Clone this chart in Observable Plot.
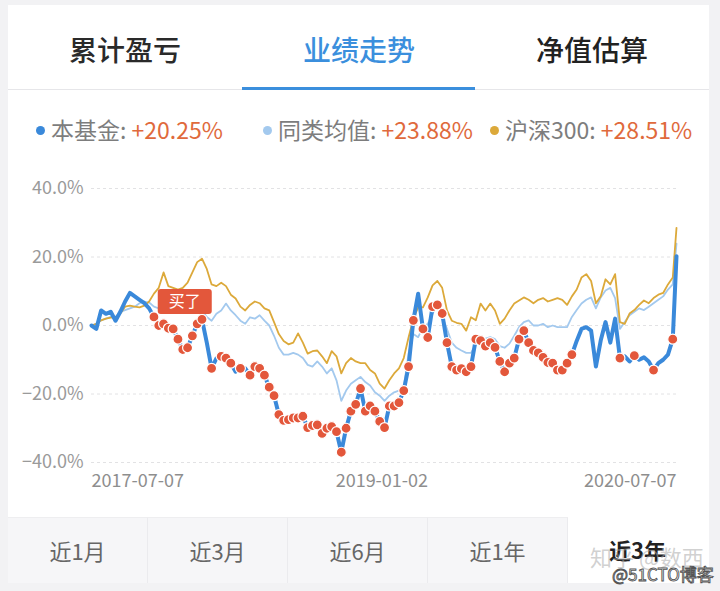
<!DOCTYPE html>
<html><head><meta charset="utf-8">
<script src="https://cdn.jsdelivr.net/npm/d3@7"></script>
<script src="https://cdn.jsdelivr.net/npm/@observablehq/plot@0.6"></script>
<style>
html,body{margin:0;padding:0;background:#f2f2f4;}
#page{position:relative;width:720px;height:591px;overflow:hidden;background:#f2f2f4;font-family:"Noto Sans CJK SC","Noto Sans",sans-serif;}
#card{position:absolute;left:8px;top:5px;width:701px;height:578px;background:#fff;}
.tab{position:absolute;top:29px;width:234px;text-align:center;font-size:28px;font-weight:500;color:#2a2a2a;line-height:40px;}
#sep{position:absolute;left:8px;top:89px;width:701px;height:1px;background:#e6e6e9;}
#under{position:absolute;left:242px;top:87px;width:233px;height:3px;background:#3b8fdd;}
.leg{position:absolute;top:114px;font-size:23px;line-height:30px;color:#7d7d7d;white-space:nowrap;}
.leg .dot{display:inline-block;width:9px;height:9px;border-radius:50%;margin-right:6px;vertical-align:middle;position:relative;top:-2px;}
.leg .val{color:#e06a3c;}
#chart{position:absolute;left:0;top:160px;}
.btab{position:absolute;top:517px;width:139px;height:65px;line-height:65px;text-align:center;font-size:22px;color:#666;background:#f6f6f8;border-right:1px solid #ebebee;border-top:1px solid #eeeef0;}
.btab.on{background:#fff;color:#222;font-weight:700;border:none;}
#wm1{position:absolute;left:590px;top:540px;font-size:22px;color:rgba(170,170,170,0.55);white-space:nowrap;}
#wm2{position:absolute;left:612px;top:561px;font-size:17px;color:#fff;-webkit-text-stroke:0.9px #555;white-space:nowrap;}
</style></head>
<body>
<div id="page">
  <div id="card"></div>
  <div class="tab" style="left:8px">累计盈亏</div>
  <div class="tab" style="left:242px;color:#3b8fdd">业绩走势</div>
  <div class="tab" style="left:475px;color:#222">净值估算</div>
  <div id="sep"></div>
  <div id="under"></div>
  <div id="legend"></div>
  <div id="chart"></div>
  <div id="tabs"></div>
  <div id="wm1">知乎 @数西</div>
  <div id="wm2">@51CTO博客</div>
</div>
<script>
// ---- data ----
const tabsTop = ["累计盈亏", "业绩走势", "净值估算"];
const seriesNames = ["本基金", "同类均值", "沪深300"];
const seriesTotals = ["+20.25%", "+23.88%", "+28.51%"];
const periodTabs = ["近1月", "近3月", "近6月", "近1年", "近3年"];
const yTicks = [-40, -20, 0, 20, 40];
const xTickLabels = ["2017-07-07", "2019-01-02", "2020-07-07"];

const dates = [
"2017-07-07","2017-07-16","2017-07-25","2017-08-03","2017-08-12","2017-08-21","2017-08-30","2017-09-08","2017-09-17","2017-09-26",
"2017-10-05","2017-10-14","2017-10-23","2017-11-01","2017-11-10","2017-11-19","2017-11-28","2017-12-07","2017-12-16","2017-12-25",
"2018-01-03","2018-01-12","2018-01-21","2018-01-30","2018-02-08","2018-02-17","2018-02-26","2018-03-07","2018-03-16","2018-03-25",
"2018-04-03","2018-04-12","2018-04-21","2018-04-30","2018-05-09","2018-05-18","2018-05-27","2018-06-05","2018-06-14","2018-06-23",
"2018-07-02","2018-07-11","2018-07-20","2018-07-29","2018-08-07","2018-08-16","2018-08-25","2018-09-03","2018-09-12","2018-09-21",
"2018-09-30","2018-10-09","2018-10-18","2018-10-27","2018-11-05","2018-11-14","2018-11-23","2018-12-02","2018-12-11","2018-12-20",
"2018-12-29","2019-01-07","2019-01-16","2019-01-25","2019-02-03","2019-02-12","2019-02-21","2019-03-02","2019-03-11","2019-03-20",
"2019-03-29","2019-04-07","2019-04-16","2019-04-25","2019-05-04","2019-05-13","2019-05-22","2019-05-31","2019-06-09","2019-06-18",
"2019-06-27","2019-07-06","2019-07-15","2019-07-24","2019-08-02","2019-08-11","2019-08-20","2019-08-29","2019-09-07","2019-09-16",
"2019-09-25","2019-10-04","2019-10-13","2019-10-22","2019-10-31","2019-11-09","2019-11-18","2019-11-27","2019-12-06","2019-12-15",
"2019-12-24","2020-01-02","2020-01-11","2020-01-20","2020-01-29","2020-02-07","2020-02-16","2020-02-25","2020-03-05","2020-03-14",
"2020-03-23","2020-04-01","2020-04-10","2020-04-19","2020-04-28","2020-05-07","2020-05-16","2020-05-25","2020-06-03","2020-06-12",
"2020-06-21","2020-06-30","2020-07-07"];

const fundValues = [
0, -1.0, 4.4, 3.4, 4.0, 1.4, 4.0, 7.0, 9.5, 8.5,
7.5, 6.5, 5.0, 2.5, 0.0, 0.5, -0.8, -1.0, -4.0, -7.0,
-6.5, -3.0, 0.5, 1.8, -5.0, -12.5, -9.6, -9.0, -9.5, -11.0,
-13.5, -12.5, -12.5, -14.5, -12.0, -12.5, -14.5, -18.0, -20.5, -26.0,
-27.7, -27.5, -27.0, -27.0, -26.5, -29.8, -29.2, -29.0, -31.5, -30.0,
-29.5, -31.0, -37.0, -30.0, -25.0, -23.0, -18.4, -25.0, -23.5, -25.0,
-28.0, -29.8, -23.5, -23.5, -22.5, -19.0, -12.0, 1.5, 9.3, -1.0,
-3.5, 5.5, 6.0, 3.5, -5.0, -12.0, -13.0, -12.6, -13.5, -12.0,
-4.0, -4.4, -6.0, -5.0, -6.4, -10.5, -13.5, -11.0, -9.5, -4.0,
-1.5, -5.0, -7.3, -8.0, -9.3, -10.8, -11.0, -13.0, -13.0, -11.0,
-8.5, -4.5, -1.0, -0.5, -1.5, -12.0, -4.4, 1.0, -5.0, 2.0,
-9.5, -9.0, -10.5, -8.8, -10.0, -9.3, -10.5, -13.0, -11.0, -10.0,
-8.5, -4.0, 20.25];

const peerValues = [
0, 0.5, 1.5, 2.0, 2.5, 2.5, 4.0, 4.5, 5.0, 5.5,
6.5, 7.0, 6.7, 5.5, 5.0, 5.5, 5.0, 4.5, 5.0, 4.0,
4.5, 5.0, 4.5, 4.5, 2.5, 1.4, 3.4, 4.4, 6.4, 4.4,
3.0, 1.4, 0.5, 2.4, 2.0, 3.0, 1.4, 0.0, -3.0, -6.5,
-8.5, -8.5, -8.0, -8.5, -9.5, -11.5, -12.0, -10.5, -12.0, -14.0,
-12.5, -16.0, -22.0, -19.0, -17.0, -16.0, -15.0, -16.5, -17.5, -19.5,
-20.5, -22.0, -20.5, -19.5, -19.0, -18.0, -8.2, -2.5, -3.4, -0.5,
0.5, 3.4, 6.4, 2.5, -1.0, -5.0, -6.5, -7.3, -8.0, -8.0,
-5.5, -3.4, -3.8, -3.4, -4.0, -6.0, -6.5, -5.3, -3.0, -0.5,
1.0, 1.5, 0.0, 0.0, 0.5, -0.5, 0.0, -0.5, -0.5, -0.5,
2.5, 4.5, 6.4, 7.5, 8.2, 5.0, 8.2, 10.2, 11.0, 8.0,
-1.0, 1.0, 3.0, 4.0, 5.0, 4.5, 5.5, 6.5, 7.5, 8.5,
10.5, 12.0, 23.88];

const hs300Values = [
0, 0.5, 1.5, 2.0, 2.3, 2.4, 3.5, 5.5, 5.8, 5.5,
5.3, 5.8, 7.0, 9.3, 11.0, 15.5, 11.5, 11.0, 10.5, 11.0,
12.5, 15.5, 18.5, 19.5, 16.5, 12.0, 11.5, 12.5, 11.5, 9.0,
7.9, 5.5, 4.4, 6.0, 7.0, 6.5, 5.0, 4.4, 1.0, -2.5,
-4.5, -5.5, -5.0, -2.3, -5.0, -8.2, -7.5, -7.3, -9.0, -11.0,
-7.5, -9.0, -14.0, -11.0, -9.5, -10.5, -11.0, -11.0, -13.0, -14.0,
-17.0, -18.4, -16.0, -14.0, -12.5, -9.5, -3.5, 2.0, 5.3, 5.3,
8.2, 11.7, 13.0, 11.0, 4.4, 1.4, 0.8, 0.5, -1.5, 2.4,
1.5, 6.4, 4.4, 6.4, 4.4, 0.5, 2.0, 4.4, 6.4, 7.3,
8.2, 7.5, 6.5, 7.5, 8.0, 7.0, 7.5, 8.0, 7.5, 6.0,
8.5, 10.5, 14.0, 15.0, 13.0, 6.5, 8.5, 13.5, 12.0, 15.0,
1.0, 0.5, 3.5, 4.5, 6.0, 7.3, 6.5, 8.0, 9.0, 9.5,
12.0, 14.0, 28.51];

// points where a purchase was made (index into dates)
const buyIndex = [13,14,15,16,17,18,19,20,21,22,23,25,27,28,29,31,33,34,35,36,37,38,39,40,41,42,43,44,45,46,47,48,49,50,51,52,53,54,55,56,57,58,59,60,61,62,63,64,65,66,67,69,70,71,72,73,74,75,76,77,78,79,80,81,82,83,84,85,86,87,88,89,90,91,92,93,94,95,96,97,98,99,100,110,113,117,121];
const buyLabel = "买了";
const buyLabelIndex = 14;

const colors = {fund: "#3a89da", peer: "#a3c9ee", hs300: "#dca93a", buy: "#e3573b"};

// ---- html pieces ----
const legendX = [36, 263, 490];
const legendColors = [colors.fund, colors.peer, colors.hs300];
document.getElementById("legend").innerHTML = seriesNames.map((n, i) =>
  `<div class="leg" style="left:${legendX[i]}px"><span class="dot" style="background:${legendColors[i]}"></span>${n}: <span class="val">${seriesTotals[i]}</span></div>`).join("");
document.getElementById("tabs").innerHTML = periodTabs.map((t, i) =>
  `<div class="btab${i === periodTabs.length - 1 ? " on" : ""}" style="left:${8 + i * 140}px">${t}</div>`).join("");

// ---- chart ----
const parse = d3.utcParse("%Y-%m-%d");
const fmt = d3.utcFormat("%Y-%m-%d");
const rows = dates.map((d, i) => ({date: parse(d), fund: fundValues[i], peer: peerValues[i], hs300: hs300Values[i]}));
const buys = buyIndex.map(i => rows[i]);
const labelRow = [rows[buyLabelIndex]];

const tagSymbol = {
  draw(ctx) {
    const w = 54, h = 25, r = 3, x0 = -w / 2, y0 = -h / 2, x1 = w / 2, y1 = h / 2;
    ctx.moveTo(x0 + r, y0);
    ctx.arcTo(x1, y0, x1, y1, r);
    ctx.arcTo(x1, y1, x0, y1, r);
    ctx.arcTo(x0, y1, x0, y0, r);
    ctx.arcTo(x0, y0, x1, y0, r);
    ctx.closePath();
  }
};

const xAxis = (label, anchor) => Plot.axisX({
  ticks: [parse(label)], tickFormat: fmt, textAnchor: anchor,
  tickSize: 0, tickPadding: 12, fontSize: 18, color: "#8e8e8e", label: null
});

const chart = Plot.plot({
  width: 720, height: 340,
  marginLeft: 91, marginRight: 44, marginTop: 28, marginBottom: 38,
  style: {fontFamily: "'Noto Sans CJK SC','Noto Sans',sans-serif", background: "transparent", overflow: "visible"},
  x: {type: "utc", domain: [parse(xTickLabels[0]), parse(xTickLabels[2])]},
  y: {domain: [-40, 40]},
  marks: [
    Plot.ruleY(yTicks, {stroke: "#e2e2e4", strokeDasharray: "3,3", strokeWidth: 1}),
    Plot.axisY({ticks: yTicks, tickSize: 0, tickPadding: 8, fontSize: 18, color: "#9a9a9a", label: null,
      tickFormat: d => (d < 0 ? "−" : "") + Math.abs(d).toFixed(1) + "%"}),
    xAxis(xTickLabels[0], "start"),
    xAxis(xTickLabels[1], "middle"),
    xAxis(xTickLabels[2], "end"),
    Plot.line(rows, {x: "date", y: "peer", stroke: colors.peer, strokeWidth: 1.8}),
    Plot.line(rows, {x: "date", y: "hs300", stroke: colors.hs300, strokeWidth: 1.8}),
    Plot.line(rows, {x: "date", y: "fund", stroke: colors.fund, strokeWidth: 4, strokeLinejoin: "round"}),
    Plot.dot(buys, {x: "date", y: "fund", r: 5, fill: colors.buy, stroke: "#fff", strokeWidth: 1.2}),
    Plot.dot(labelRow, {x: "date", y: "fund", symbol: tagSymbol, r: 5, fill: colors.buy, stroke: "none", dx: 26, dy: -24}),
    Plot.text(labelRow, {x: "date", y: "fund", text: () => buyLabel, fill: "#fff", fontSize: 16, dx: 26, dy: -24})
  ]
});
document.getElementById("chart").appendChild(chart);
</script>
</body></html>
